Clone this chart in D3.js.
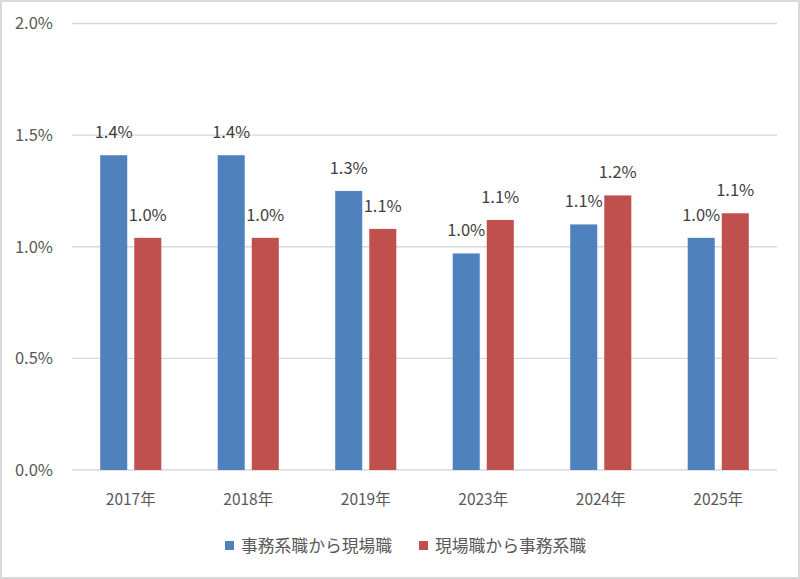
<!DOCTYPE html>
<html>
<head>
<meta charset="utf-8">
<script src="https://cdn.jsdelivr.net/npm/d3@7"></script>
<style>
  body { margin: 0; background: #fff; }
  svg { display: block; font-family: "Noto Sans CJK JP", "Noto Sans", sans-serif; }
</style>
</head>
<body>
<div id="chart"></div>
<script>
// Data
const years = ['2017年', '2018年', '2019年', '2023年', '2024年', '2025年'];
const seriesNames = ['事務系職から現場職', '現場職から事務系職'];
const officeToSite = [1.41, 1.41, 1.25, 0.97, 1.10, 1.04];
const siteToOffice = [1.04, 1.04, 1.08, 1.12, 1.23, 1.15];
const yTicks = [0, 0.5, 1.0, 1.5, 2.0];

const W = 800, H = 579;
const plot = { left: 72, right: 777, top: 23.5, bottom: 470 };

const colors = d3.scaleOrdinal().domain(seriesNames).range(['#4f81bd', '#c0504d']);

const rows = years.map((y, i) => ({
  year: y,
  values: [
    { key: seriesNames[0], value: officeToSite[i] },
    { key: seriesNames[1], value: siteToOffice[i] }
  ]
}));

const svg = d3.select('#chart').append('svg')
  .attr('width', W)
  .attr('height', H);

// outer border
svg.append('rect')
  .attr('x', 1).attr('y', 1)
  .attr('width', W - 2).attr('height', H - 2)
  .attr('fill', '#fff')
  .attr('stroke', '#d9d9d9')
  .attr('stroke-width', 2);

const x0 = d3.scaleBand()
  .domain(years)
  .range([plot.left, plot.right])
  .paddingInner(0.48)
  .paddingOuter(0.24);

const x1 = d3.scaleBand()
  .domain(seriesNames)
  .range([0, x0.bandwidth()])
  .paddingInner(0.206);

const y = d3.scaleLinear()
  .domain([0, 2.0])
  .range([plot.bottom, plot.top]);

// gridlines
svg.append('g')
  .selectAll('line')
  .data(yTicks)
  .join('line')
  .attr('x1', plot.left).attr('x2', plot.right)
  .attr('y1', d => y(d)).attr('y2', d => y(d))
  .attr('stroke', '#d9d9d9')
  .attr('stroke-width', 1.3);

// y axis labels
const yAxis = d3.axisLeft(y)
  .tickValues(yTicks)
  .tickFormat(d => d.toFixed(1) + '%')
  .tickSize(0)
  .tickPadding(19);

svg.append('g')
  .attr('transform', `translate(${plot.left},0)`)
  .call(yAxis)
  .call(g => g.select('.domain').remove())
  .call(g => g.selectAll('text')
    .attr('fill', '#595959')
    .style('font-size', '16.5px')
    .style('font-family', '"Noto Sans CJK JP", sans-serif'));

// x axis labels
const xAxis = d3.axisBottom(x0).tickSize(0).tickPadding(24);
svg.append('g')
  .attr('transform', `translate(0,${plot.bottom})`)
  .call(xAxis)
  .call(g => g.select('.domain').remove())
  .call(g => g.selectAll('text')
    .attr('fill', '#595959')
    .style('font-size', '15.5px')
    .style('font-family', '"Noto Sans CJK JP", sans-serif'));

// bars
const groups = svg.append('g')
  .selectAll('g')
  .data(rows)
  .join('g')
  .attr('transform', d => `translate(${x0(d.year)},0)`);

groups.selectAll('rect')
  .data(d => d.values)
  .join('rect')
  .attr('x', d => x1(d.key))
  .attr('y', d => y(d.value))
  .attr('width', x1.bandwidth())
  .attr('height', d => y(0) - y(d.value))
  .attr('fill', d => colors(d.key));

// value labels
groups.selectAll('text')
  .data(d => d.values)
  .join('text')
  .attr('x', d => x1(d.key) + x1.bandwidth() / 2)
  .attr('y', d => y(d.value) - 17)
  .attr('text-anchor', 'middle')
  .attr('fill', '#404040')
  .style('font-size', '16.5px')
  .text(d => d.value.toFixed(1) + '%');

// legend
const legendX = [225, 419];
const legend = svg.append('g')
  .selectAll('g')
  .data(seriesNames)
  .join('g')
  .attr('transform', (d, i) => `translate(${legendX[i]},541)`);

legend.append('rect')
  .attr('width', 9).attr('height', 9)
  .attr('fill', d => colors(d));

legend.append('text')
  .attr('x', 16)
  .attr('y', 5)
  .attr('dy', '0.35em')
  .attr('fill', '#595959')
  .style('font-size', '16.8px')
  .text(d => d);
</script>
</body>
</html>
